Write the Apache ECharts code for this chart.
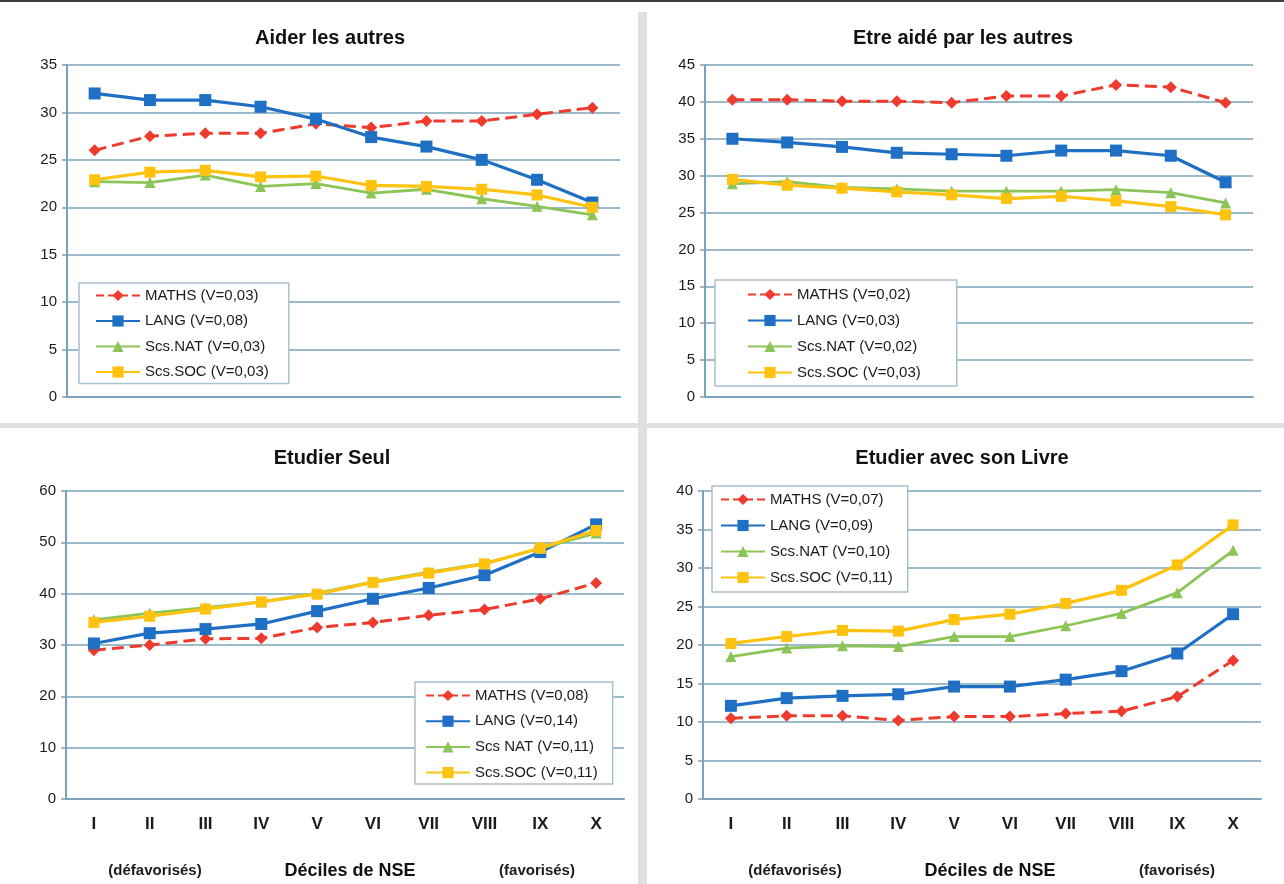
<!DOCTYPE html>
<html>
<head>
<meta charset="utf-8">
<script src="https://cdn.jsdelivr.net/npm/echarts@6/dist/echarts.min.js"></script>
<style>
html,body{margin:0;padding:0;background:#fff;}
#chart{width:1284px;height:884px;}
</style>
</head>
<body>
<div id="chart"></div>
<script>
// ---- data ----
const categories = ['I','II','III','IV','V','VI','VII','VIII','IX','X'];

const titles = ['Aider les autres','Etre aidé par les autres','Etudier Seul','Etudier avec son Livre'];
const xAxisTitle = 'Déciles de NSE';
const xLowNote = '(défavorisés)';
const xHighNote = '(favorisés)';

// Aider les autres
const aiderNames = ['MATHS (V=0,03)','LANG (V=0,08)','Scs.NAT (V=0,03)','Scs.SOC (V=0,03)'];
const aiderMaths = [26.0,27.5,27.8,27.8,28.8,28.4,29.1,29.1,29.8,30.5];
const aiderLang  = [32.0,31.3,31.3,30.6,29.3,27.4,26.4,25.0,22.9,20.5];
const aiderNat   = [22.7,22.6,23.4,22.2,22.5,21.5,21.9,20.9,20.1,19.2];
const aiderSoc   = [22.9,23.7,23.9,23.2,23.3,22.3,22.2,21.9,21.3,20.0];

// Etre aidé par les autres
const aideNames = ['MATHS (V=0,02)','LANG (V=0,03)','Scs.NAT (V=0,02)','Scs.SOC (V=0,03)'];
const aideMaths = [40.3,40.3,40.1,40.1,39.9,40.8,40.8,42.3,42.0,39.9];
const aideLang  = [35.0,34.5,33.9,33.1,32.9,32.7,33.4,33.4,32.7,29.1];
const aideNat   = [28.9,29.2,28.4,28.2,27.9,27.9,27.9,28.1,27.7,26.3];
const aideSoc   = [29.5,28.7,28.3,27.8,27.4,26.9,27.2,26.6,25.8,24.7];

// Etudier Seul
const seulNames = ['MATHS (V=0,08)','LANG (V=0,14)','Scs NAT (V=0,11)','Scs.SOC (V=0,11)'];
const seulMaths = [29.0,30.0,31.2,31.3,33.4,34.4,35.8,36.9,39.0,42.1];
const seulLang  = [30.3,32.3,33.1,34.1,36.6,39.0,41.1,43.6,48.1,53.5];
const seulNat   = [34.9,36.2,37.3,38.4,40.1,42.3,44.2,45.9,48.8,51.8];
const seulSoc   = [34.4,35.6,37.0,38.4,39.9,42.2,44.0,45.8,48.9,52.3];

// Etudier avec son Livre
const livreNames = ['MATHS (V=0,07)','LANG (V=0,09)','Scs.NAT (V=0,10)','Scs.SOC (V=0,11)'];
const livreMaths = [10.5,10.8,10.8,10.2,10.7,10.7,11.1,11.4,13.3,18.0];
const livreLang  = [12.1,13.1,13.4,13.6,14.6,14.6,15.5,16.6,18.9,24.0];
const livreNat   = [18.5,19.6,19.9,19.8,21.1,21.1,22.5,24.1,26.8,32.3];
const livreSoc   = [20.2,21.1,21.9,21.8,23.3,24.0,25.4,27.1,30.4,35.6];

const yMax = [35,45,60,40];
const yStep = [5,5,10,5];

// ---- styles ----
const FONT = '"Liberation Sans", Arial, sans-serif';
const GRIDC = '#7AA3B9';
const TXT = '#1b1b1b';
const styles = [
  {color:'#EE3B2D', type:'dashed', symbol:'diamond', size:12, width:3},
  {color:'#1F6FC5', type:'solid',  symbol:'rect',    size:12, width:3.2},
  {color:'#8DC457', type:'solid',  symbol:'triangle',size:11, width:2.8},
  {color:'#FFC20E', type:'solid',  symbol:'rect',    size:11, width:3.2}
];

const panels = [
  {names:aiderNames, data:[aiderMaths,aiderLang,aiderNat,aiderSoc]},
  {names:aideNames,  data:[aideMaths,aideLang,aideNat,aideSoc]},
  {names:seulNames,  data:[seulMaths,seulLang,seulNat,seulSoc]},
  {names:livreNames, data:[livreMaths,livreLang,livreNat,livreSoc]}
];

const grids = [
  {left:67,  right:664, top:65,  bottom:487},
  {left:705, right:31,  top:65,  bottom:487},
  {left:66,  right:660, top:491, bottom:85},
  {left:703, right:23,  top:491, bottom:85}
];

const legendPos = [
  {left:79,  top:283, padding:[5,20,4,16], itemGap:10.5},
  {left:715, top:280, padding:[7,36,6,32], itemGap:11},
  {left:415, top:682, padding:[6,15,4,10], itemGap:10.7},
  {left:712, top:486, padding:[6,15,7,8],  itemGap:11}
];

const titlePos = [[330,38],[963,38],[332,458],[962,458]];

const xAxes = [], yAxes = [], series = [], legends = [];
panels.forEach((p, i) => {
  const bottomRow = i >= 2;
  xAxes.push({
    gridIndex:i, type:'category', data:categories, boundaryGap:true,
    axisLine:{show:true, lineStyle:{color:GRIDC, width:2}},
    axisTick:{show:false},
    axisLabel:{show:bottomRow, margin:17, fontFamily:FONT, fontSize:17, fontWeight:'bold', color:TXT}
  });
  yAxes.push({
    gridIndex:i, type:'value', min:0, max:yMax[i], interval:yStep[i],
    axisLine:{show:true, lineStyle:{color:GRIDC, width:2}},
    axisTick:{show:true, length:5, lineStyle:{color:GRIDC, width:1.5}},
    axisLabel:{margin:10, fontFamily:FONT, fontSize:15, color:TXT},
    splitLine:{show:true, lineStyle:{color:GRIDC, width:1.5}}
  });
  p.names.forEach((nm, k) => {
    const s = styles[k];
    series.push({
      name:nm, type:'line', xAxisIndex:i, yAxisIndex:i, data:p.data[k],
      symbol:s.symbol, symbolSize:s.size, showSymbol:true,
      lineStyle:{color:s.color, width:s.width, type:s.type},
      itemStyle:{color:s.color},
      animation:false, z:2+k
    });
  });
  const lp = legendPos[i];
  legends.push({
    data:p.names, orient:'vertical', left:lp.left, top:lp.top, padding:lp.padding,
    itemGap:lp.itemGap, itemWidth:44, itemHeight:14,
    backgroundColor:'#fff', borderColor:'#A9C0CE', borderWidth:1.5,
    textStyle:{fontFamily:FONT, fontSize:15, color:TXT, lineHeight:15},
    selectedMode:false
  });
});

const graphics = [
  {type:'rect', shape:{x:0, y:0, width:1284, height:2}, style:{fill:'#3a3f44'}, z:100},
  {type:'rect', shape:{x:638, y:12, width:9, height:872}, style:{fill:'#DDE0E3'}, z:100},
  {type:'rect', shape:{x:0, y:423, width:1284, height:5}, style:{fill:'#DDE0E3'}, z:100}
];
titles.forEach((t, i) => {
  graphics.push({type:'text', x:titlePos[i][0], y:titlePos[i][1], z:100,
    style:{text:t, fill:'#111', font:'bold 20px ' + FONT, textAlign:'center', textVerticalAlign:'middle'}});
});
// bottom-row axis annotation texts
[[155, 350, 537], [795, 990, 1177]].forEach(xs => {
  graphics.push({type:'text', x:xs[0], y:871, z:100,
    style:{text:xLowNote, fill:TXT, font:'bold 15px ' + FONT, textAlign:'center', textVerticalAlign:'middle'}});
  graphics.push({type:'text', x:xs[1], y:871, z:100,
    style:{text:xAxisTitle, fill:'#111', font:'bold 18px ' + FONT, textAlign:'center', textVerticalAlign:'middle'}});
  graphics.push({type:'text', x:xs[2], y:871, z:100,
    style:{text:xHighNote, fill:TXT, font:'bold 15px ' + FONT, textAlign:'center', textVerticalAlign:'middle'}});
});

const chart = echarts.init(document.getElementById('chart'), null, {renderer:'canvas'});
chart.setOption({
  backgroundColor:'#ffffff',
  animation:false,
  textStyle:{fontFamily:FONT},
  grid:grids,
  xAxis:xAxes,
  yAxis:yAxes,
  legend:legends,
  series:series,
  graphic:graphics
});
</script>
</body>
</html>
